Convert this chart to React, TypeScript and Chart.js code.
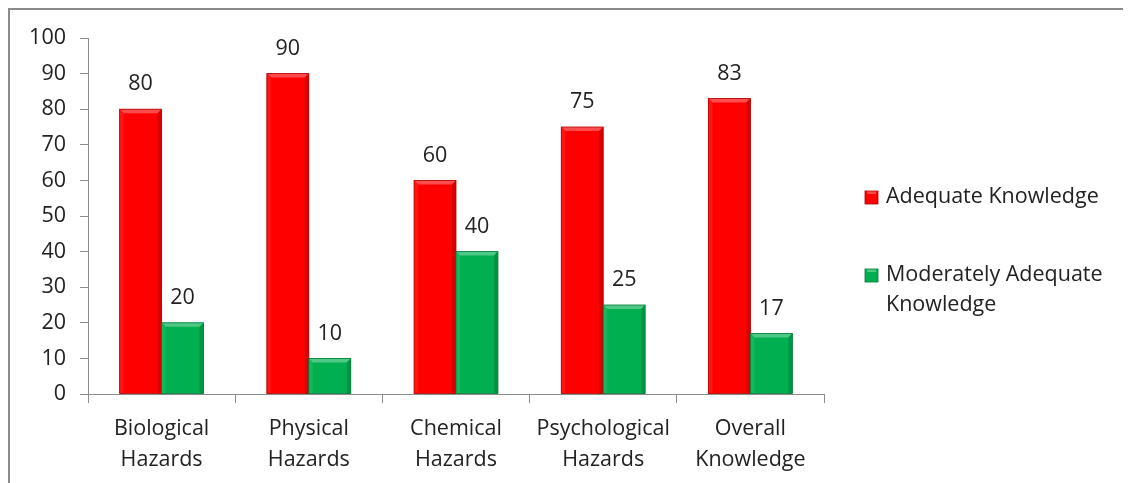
import React, { useEffect, useRef } from "react";
import { Chart, registerables } from "chart.js";

Chart.register(...registerables);

const categories: string[][] = [
  ["Biological", "Hazards"],
  ["Physical", "Hazards"],
  ["Chemical", "Hazards"],
  ["Psychological", "Hazards"],
  ["Overall", "Knowledge"],
];
const adequate: number[] = [80, 90, 60, 75, 83];
const moderate: number[] = [20, 10, 40, 25, 17];
const seriesNames: string[][] = [["Adequate Knowledge"], ["Moderately Adequate", "Knowledge"]];
const yTicks: number[] = [0, 10, 20, 30, 40, 50, 60, 70, 80, 90, 100];

const FONT = "'Open Sans', Lato, sans-serif";
const FSIZE = 21.5;
const TEXT = "#222222";
const AXIS = "#8c8c8c";

function shade(hex: string, amt: number): string {
  const n = parseInt(hex.slice(1), 16);
  let r = (n >> 16) & 255, g = (n >> 8) & 255, b = n & 255;
  const f = (c: number) => Math.max(0, Math.min(255, Math.round(amt >= 0 ? c + (255 - c) * amt : c * (1 + amt))));
  return `rgb(${f(r)},${f(g)},${f(b)})`;
}

const bevelAndLabels = {
  id: "bevelAndLabels",
  afterDatasetsDraw(chart: any) {
    const ctx = chart.ctx as CanvasRenderingContext2D;
    chart.data.datasets.forEach((ds: any, di: number) => {
      const meta = chart.getDatasetMeta(di);
      const base = ds.backgroundColor as string;
      meta.data.forEach((bar: any, i: number) => {
        const { x, y, width, base: b } = bar.getProps(["x", "y", "width", "base"], true);
        const l = x - width / 2, r = x + width / 2;
        const e = 4;
        ctx.save();
        ctx.fillStyle = shade(base, 0.3);
        ctx.beginPath();
        ctx.moveTo(l, y); ctx.lineTo(r, y); ctx.lineTo(r - e, y + e); ctx.lineTo(l + e, y + e); ctx.closePath(); ctx.fill();
        ctx.fillStyle = shade(base, 0.08);
        ctx.beginPath();
        ctx.moveTo(l, y); ctx.lineTo(l + e, y + e); ctx.lineTo(l + e, b); ctx.lineTo(l, b); ctx.closePath(); ctx.fill();
        ctx.fillStyle = shade(base, -0.15);
        ctx.beginPath();
        ctx.moveTo(r, y); ctx.lineTo(r - e, y + e); ctx.lineTo(r - e, b); ctx.lineTo(r, b); ctx.closePath(); ctx.fill();
        ctx.strokeStyle = shade(base, -0.3);
        ctx.lineWidth = 0.8;
        ctx.strokeRect(l, y, width, b - y);
        ctx.fillStyle = TEXT;
        ctx.font = `${FSIZE}px ${FONT}`;
        ctx.textAlign = "center";
        ctx.textBaseline = "middle";
        ctx.fillText(String(ds.data[i]), x, y - 25);
        ctx.restore();
      });
    });
  },
};

const customLegend = {
  id: "customLegend",
  afterDraw(chart: any) {
    const ctx = chart.ctx as CanvasRenderingContext2D;
    const area = chart.chartArea;
    const x0 = area.right + 41;
    const rows = [area.top + 159, area.top + 237];
    ctx.save();
    ctx.font = `${FSIZE}px ${FONT}`;
    ctx.textBaseline = "middle";
    ctx.textAlign = "left";
    chart.data.datasets.forEach((ds: any, di: number) => {
      const cy = rows[di];
      const col = ds.backgroundColor as string;
      ctx.fillStyle = col;
      ctx.fillRect(x0, cy - 6, 13, 13);
      ctx.fillStyle = shade(col, 0.3);
      ctx.fillRect(x0 + 2, cy - 6, 9, 3);
      ctx.strokeStyle = shade(col, -0.3);
      ctx.lineWidth = 0.8;
      ctx.strokeRect(x0, cy - 6, 13, 13);
      ctx.fillStyle = TEXT;
      seriesNames[di].forEach((line, li) => {
        ctx.fillText(line, x0 + 21, cy + li * 30);
      });
    });
    ctx.restore();
  },
};

export default function App() {
  const ref = useRef<HTMLCanvasElement>(null);
  useEffect(() => {
    if (!ref.current) return;
    const chart = new Chart(ref.current, {
      type: "bar",
      data: {
        labels: categories,
        datasets: [
          { label: seriesNames[0].join(" "), data: adequate, backgroundColor: "#ff0000", categoryPercentage: 0.57, barPercentage: 1 },
          { label: seriesNames[1].join(" "), data: moderate, backgroundColor: "#00b050", categoryPercentage: 0.57, barPercentage: 1 },
        ],
      },
      options: {
        responsive: false,
        animation: false,
        layout: { padding: { left: 0, top: 28, right: 307, bottom: 0 } },
        plugins: { legend: { display: false }, tooltip: { enabled: false } },
        scales: {
          x: {
            grid: { display: true, offset: true, drawOnChartArea: false, drawTicks: true, tickLength: 9, color: AXIS },
            border: { display: true, color: AXIS, width: 1 },
            ticks: { color: TEXT, font: { family: FONT, size: FSIZE, lineHeight: 1.45 }, padding: 10, maxRotation: 0 },
            afterFit: (s: any) => { s.height = 89; },
          },
          y: {
            min: 0,
            max: 100,
            afterBuildTicks: (s: any) => { s.ticks = yTicks.map((v) => ({ value: v })); },
            grid: { display: true, drawOnChartArea: false, drawTicks: true, tickLength: 8, color: AXIS },
            border: { display: true, color: AXIS, width: 1 },
            ticks: { color: TEXT, font: { family: FONT, size: FSIZE }, padding: 14 },
            afterFit: (s: any) => { s.width = 78; },
          },
        },
      },
      plugins: [bevelAndLabels, customLegend],
    });
    return () => chart.destroy();
  }, []);
  return (
    <div style={{ borderLeft: "2px solid #8a8a8a", borderTop: "2px solid #8a8a8a", width: 1121, height: 473, background: "#fff" }}>
      <canvas ref={ref} width={1121} height={473} style={{ display: "block" }} />
    </div>
  );
}
